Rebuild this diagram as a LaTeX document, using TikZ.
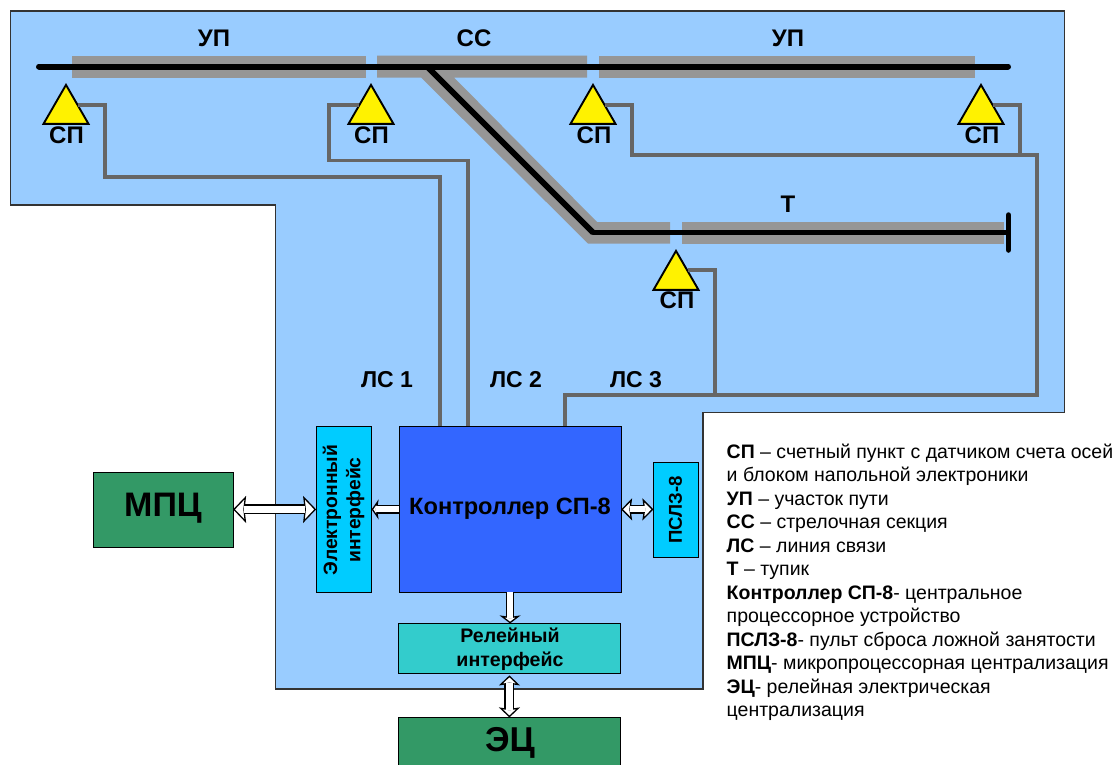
\documentclass[tikz,border=0pt]{standalone}
\usepackage{fontspec}
\setmainfont{Liberation Sans}
\usetikzlibrary{arrows.meta,calc,shapes.geometric}
\definecolor{panel}{HTML}{99CCFF}
\definecolor{bar}{HTML}{969696}
\definecolor{wirec}{HTML}{666666}
\definecolor{ctrlc}{HTML}{3366FF}
\definecolor{cyanc}{HTML}{00CCFF}
\definecolor{tealc}{HTML}{33CCCC}
\definecolor{greenc}{HTML}{339966}
\newcommand{\fs}[1]{\fontsize{#1pt}{#1pt}\selectfont}
\tikzset{
  x=1pt,y=-1pt,
  wire/.style={draw=wirec,line width=3.4pt,line join=miter},
  track/.style={draw=black,line cap=round,line join=miter},
  barc/.style={fill=bar,draw=none},
  lbl/.style={font=\fs{24}\bfseries,inner sep=0pt},
  lsl/.style={font=\fs{23}\bfseries,inner sep=0pt},
  sptri/.style={shape=isosceles triangle,shape border rotate=90,isosceles triangle apex angle=60,
     isosceles triangle stretches=false,minimum height=39pt,inner sep=0pt,draw=black,fill=yellow,line width=1.9pt,anchor=apex},
  boxn/.style={draw=black,line width=1.2pt,inner sep=0pt,outer sep=0pt,anchor=north west,align=center},
  barrow/.style n args={3}{draw=black,line width=#1,
     arrows={{Stealth[inset=1.5pt,length=#2,width=#3,fill=white,color=black,line width=1.3pt]}-{Stealth[inset=1.5pt,length=#2,width=#3,fill=white,color=black,line width=1.3pt]}},
     postaction={draw=white,arrows=-,line width=#1-2.4pt,shorten >=#2-2.2pt,shorten <=#2-2.2pt}},
  sarrow/.style n args={3}{draw=black,line width=#1,
     arrows={-{Stealth[inset=1.5pt,length=#2,width=#3,fill=white,color=black,line width=1.3pt]}},
     postaction={draw=white,arrows=-,line width=#1-2.4pt,shorten >=#2-2.2pt}}
}
\begin{document}
\begin{tikzpicture}
\useasboundingbox (0,0) rectangle (1118,764);
\clip (0,0) rectangle (1118,764);
% panel
\draw[fill=panel,draw=black!80,line width=1.2pt] (10.5,11) -- (1064.5,11) -- (1064.5,412.5) -- (703,412.5) -- (703,689) -- (275.5,689) -- (275.5,205) -- (10.5,205) -- cycle;
% grey sections
\fill[barc] (71.5,55.5) rectangle (365.5,77.5);
\fill[barc] (377,55.5) -- (587,55.5) -- (587,77.5) -- (454,77.5) -- (597,222) -- (670,222) -- (670,243.5) -- (588,243.5) -- (421,77.5) -- (377,77.5) -- cycle;
\fill[barc] (598.5,55.5) rectangle (975,77.5);
\fill[barc] (682,222) rectangle (1004,243.5);
% track
\draw[track,line width=6pt] (39,66.5) -- (1008,66.5);
\draw[track,line width=6pt,line cap=butt] (427,66.5) -- (593,232.5);
\draw[track,line width=5.5pt,line cap=round] (593,232.5) -- (1008,232.5);
\draw[track,line width=5.5pt] (1008.5,215) -- (1008.5,250);
% boxes
\node[boxn,fill=ctrlc,minimum width=222pt,minimum height=166pt] (ctrl) at (399.1,426.4) {};
\node[inner sep=0pt,font=\fs{23.6}\bfseries] (ctrltxt) at (510,509) {Контроллер СП-8};
\node[boxn,fill=cyanc,minimum width=55.5pt,minimum height=166pt] (eli) at (316.1,426.4) {};
\node[rotate=90,inner sep=0pt,font=\fs{19.3}\bfseries,align=center] (elitxt) at (343.5,510) {Электронный\\[4pt]интерфейс};
\node[boxn,fill=cyanc,minimum width=44.7pt,minimum height=94.7pt] (pslz) at (653.4,462.4) {};
\node[rotate=90,inner sep=0pt,font=\fs{18.6}\bfseries] (pslztxt) at (675.5,510) {ПСЛЗ-8};
\node[boxn,fill=tealc,minimum width=222pt,minimum height=50pt] (rel) at (398.4,623.4) {};
\node[inner sep=0pt,align=center,font=\fs{19.6}\bfseries] (reltxt) at (510,649.5) {Релейный\\[4.5pt]интерфейс};
\node[boxn,fill=greenc,minimum width=139.7pt,minimum height=74.7pt] (mpc) at (93.4,472.4) {};
\node[inner sep=0pt,font=\fs{34}\bfseries] (mpctxt) at (163,508.5) {МПЦ};
\node[boxn,fill=greenc,minimum width=222pt,minimum height=52pt] (ec) at (398.4,717.4) {};
\node[inner sep=0pt,font=\fs{34.5}\bfseries] (ectxt) at (510,742.5) {ЭЦ};
% sensors
\node[sptri] (t1) at (66,83) {};
\node[sptri] (t2) at (371,83) {};
\node[sptri] (t3) at (593,83) {};
\node[sptri] (t4) at (981,83) {};
\node[sptri] (t5) at (676,249) {};
% wires
\draw[wire] ($(t1.apex)+(12,22)$) -- (105,105) -- (105,177) -- (440,177) -- (440,0 |- ctrl.north);
\draw[wire] ($(t2.apex)+(-12,22)$) -- (329,105) -- (329,160.5) -- (468,160.5) -- (468,0 |- ctrl.north);
\draw[wire] ($(t3.apex)+(12,22)$) -- (632,105) -- (632,155) -- (1037,155) -- (1037,395) -- (565,395) -- (565,0 |- ctrl.north);
\draw[wire] ($(t4.apex)+(12,22)$) -- (1020,105) -- (1020,155);
\draw[wire] ($(t5.apex)+(12,21)$) -- (715,270) -- (715,395);
% labels
\node[lbl] (lup1) at (214,38) {УП};
\node[lbl] (lcc) at (474,38) {СС};
\node[lbl] (lup2) at (788,38) {УП};
\node[lbl] (lt) at (788,204) {Т};
\node[lbl] (sp1) at (66.5,135) {СП};
\node[lbl] (sp2) at (371.5,135) {СП};
\node[lbl] (sp3) at (594,135) {СП};
\node[lbl] (sp4) at (982,135) {СП};
\node[lbl] (sp5) at (677,300) {СП};
\node[lsl] (ls1) at (387,380) {ЛС 1};
\node[lsl] (ls2) at (516,380) {ЛС 2};
\node[lsl] (ls3) at (636,380) {ЛС 3};
% block arrows
\draw[barrow={10pt}{13pt}{27pt}] (mpc.east |- eli) -- (eli.west);
\draw[sarrow={8.5pt}{7pt}{20pt}] (ctrl.west) -- (ctrl.west -| eli.east);
\draw[barrow={8.5pt}{11pt}{22pt}] (ctrl.east) -- (pslz.west |- ctrl);
\draw[sarrow={8pt}{8pt}{21pt}] (ctrl.south) -- (ctrl.south |- rel.north);
\draw[barrow={10pt}{10pt}{21pt}] ($(rel.south)+(0,2)$) -- (rel.south |- ec.north);
% legend
\node[inner sep=0pt,anchor=north west,align=left,font=\fontsize{19.5pt}{23.5pt}\selectfont] (leg) at (726.5,443.5) {\textbf{СП} – счетный пункт с датчиком счета осей\\
и блоком напольной электроники\\
\textbf{УП} – участок пути\\
\textbf{СС} – стрелочная секция\\
\textbf{ЛС} – линия связи\\
\textbf{Т} – тупик\\
\textbf{Контроллер СП-8}- центральное\\
процессорное устройство\\
\textbf{ПСЛЗ-8}- пульт сброса ложной занятости\\
\textbf{МПЦ}- микропроцессорная централизация\\
\textbf{ЭЦ}- релейная электрическая\\
централизация};
\end{tikzpicture}
\end{document}
